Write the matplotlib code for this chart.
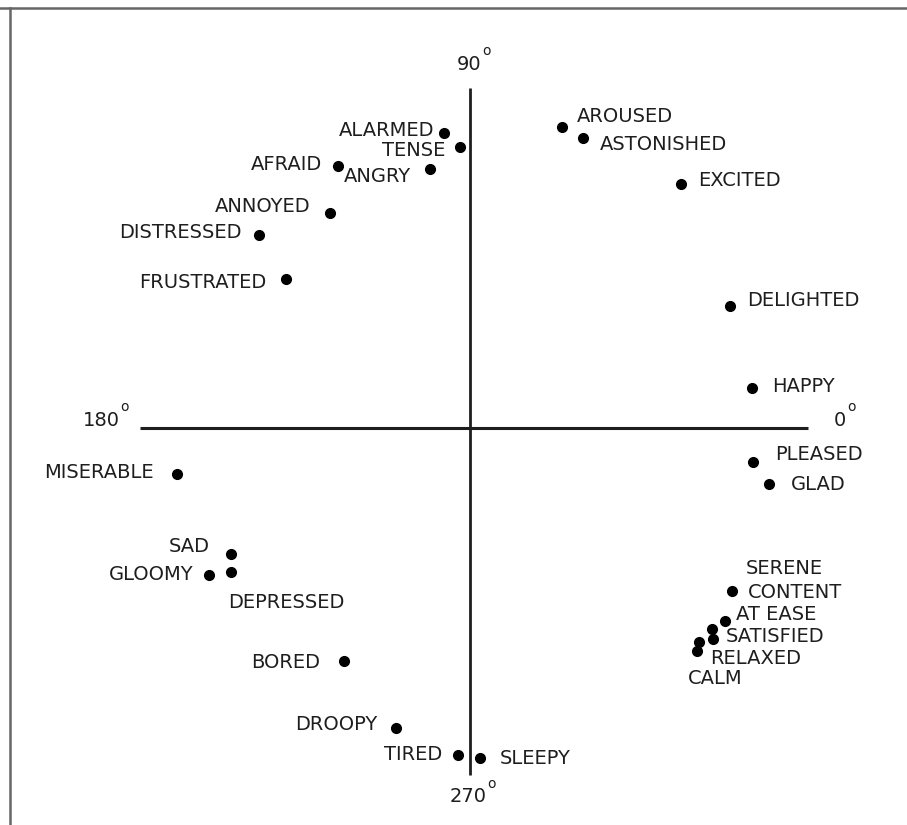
import matplotlib
matplotlib.use("Agg")
import matplotlib.pyplot as plt

# Russell circumplex - coordinates (pixels from the centre, y up)
words = ["ALARMED", "TENSE", "AFRAID", "ANGRY", "ANNOYED", "DISTRESSED", "FRUSTRATED",
         "AROUSED", "ASTONISHED", "EXCITED", "DELIGHTED", "HAPPY",
         "PLEASED", "GLAD", "SERENE", "CONTENT", "AT EASE", "SATISFIED", "RELAXED", "CALM",
         "MISERABLE", "SAD", "GLOOMY", "DEPRESSED", "BORED", "DROOPY", "TIRED", "SLEEPY"]
valence = [-26, -10, -132, -40, -140, -211, -184,
           92, 113, 211, 260, 282,
           283, 299, 262, 255, 242, 243, 229, 227,
           -293, -239, -261, -239, -126, -74, -12, 10]
arousal = [295, 281, 262, 259, 215, 193, 149,
           301, 290, 244, 122, 40,
           -34, -56, -163, -193, -201, -211, -214, -223,
           -46, -126, -147, -144, -233, -300, -327, -330]

angle_labels = ["0", "90", "180", "270"]

# label placement: (dx, dy) in pixels from the dot, horizontal alignment
label_pos = {
    "ALARMED": (-10, 3, "right"), "TENSE": (-15, -3, "right"),
    "AFRAID": (-16, 2, "right"), "ANGRY": (-19, -7, "right"),
    "ANNOYED": (-20, 6, "right"), "DISTRESSED": (-17, 3, "right"),
    "FRUSTRATED": (-20, -4, "right"),
    "AROUSED": (15, 10, "left"), "ASTONISHED": (17, -7, "left"),
    "EXCITED": (17, 3, "left"), "DELIGHTED": (17, 6, "left"),
    "HAPPY": (20, 1, "left"), "PLEASED": (22, 8, "left"), "GLAD": (22, -1, "left"),
    "SERENE": (14, 23, "left"), "CONTENT": (23, 28, "left"),
    "AT EASE": (24, 14, "left"), "SATISFIED": (13, 2, "left"),
    "RELAXED": (11, -17, "left"), "CALM": (-9, -27, "left"),
    "MISERABLE": (-23, 1, "right"), "SAD": (-21, 7, "right"),
    "GLOOMY": (-16, 1, "right"), "DEPRESSED": (-3, -31, "left"),
    "BORED": (-24, -1, "right"), "DROOPY": (-19, 4, "right"),
    "TIRED": (-16, 1, "right"), "SLEEPY": (20, 0, "left"),
}

ink = "#1e1e1e"
fig = plt.figure(figsize=(9.07, 8.25), dpi=100)
ax = fig.add_axes([0, 0, 1, 1])
ax.set_xlim(-470, 437)
ax.set_ylim(-397, 428)
ax.axis("off")

# frame of the scanned page (top and left edges only)
ax.plot([0, 1], [0.99, 0.99], transform=ax.transAxes, color="#666666", lw=1.8)
ax.plot([0.0105, 0.0105], [0, 0.99], transform=ax.transAxes, color="#666666", lw=1.8)

# the two axes
ax.plot([-330, 338], [0, 0], color=ink, lw=2.2, solid_capstyle="butt")
ax.plot([0, 0], [-347, 340], color=ink, lw=2.0, solid_capstyle="butt")

ax.plot(valence, arousal, "o", color="black", markersize=7, linestyle="none")

for w, x, y in zip(words, valence, arousal):
    dx, dy, ha = label_pos[w]
    ax.annotate(w, (x, y), xytext=(dx, dy), textcoords="offset pixels",
                ha=ha, va="center", fontsize=14, color=ink)

# degree marks at the ends of the axes
deg_pos = {"0": (370, 8), "90": (-1, 364), "180": (-369, 8), "270": (-2, -369)}
for a in angle_labels:
    x, y = deg_pos[a]
    ax.text(x, y, a, ha="center", va="center", fontsize=14, color=ink)
    ax.annotate("o", (x, y), xytext=(len(a) * 6 + 5, 13), textcoords="offset pixels",
                ha="center", va="center", fontsize=10, color=ink)

fig.savefig("out.png", dpi=100, facecolor="white")
